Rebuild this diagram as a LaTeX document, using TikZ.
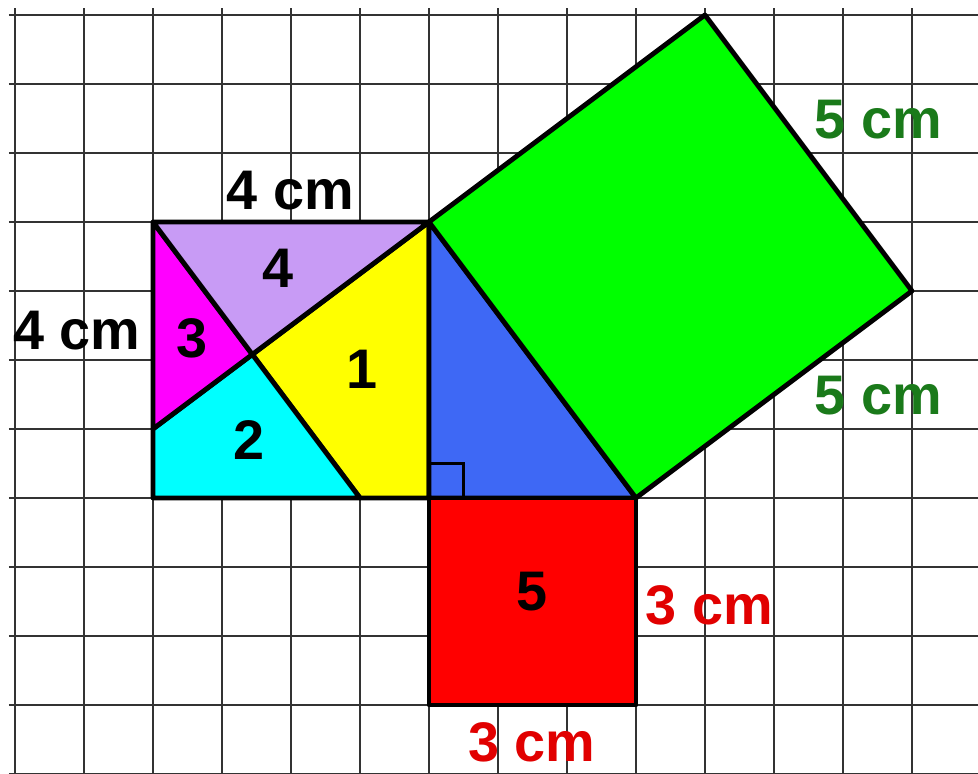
\documentclass[tikz,border=0pt]{standalone}
\usepackage{fontspec}
\setmainfont{Liberation Sans}
\usetikzlibrary{positioning}

\definecolor{lilac}{RGB}{200,155,245}
\definecolor{myblue}{RGB}{62,104,245}
\definecolor{mycyan}{RGB}{0,255,255}
\definecolor{mymagenta}{RGB}{255,0,255}
\definecolor{myyellow}{RGB}{255,255,0}
\definecolor{mygreen}{RGB}{0,255,0}
\definecolor{myred}{RGB}{255,0,0}
\definecolor{darkgreen}{RGB}{26,122,26}
\definecolor{redtext}{RGB}{225,0,0}

\tikzset{
  gridline/.style={line width=0.8pt, black!80},
  piece/.style={draw=black, line width=2pt, line join=round},
  lbl/.style={font=\fontsize{23}{27}\selectfont\bfseries, inner sep=0pt},
}

\begin{document}
\begin{tikzpicture}[x=1cm, y=1cm]
          \useasboundingbox (-2.217,-4) rectangle (11.957,7.217);
          \fill[white] (-2.217,-4) rectangle (11.957,7.217);
          \draw[gridline] (-2.087,-4) grid (11.957,7.1);

          % vertices
          \coordinate (A) at (0,0);
          \coordinate (B) at (4,0);
          \coordinate (C) at (4,4);
          \coordinate (D) at (0,4);
          \coordinate (E) at (0,1);
          \coordinate (F) at (3,0);
          \coordinate (P) at (1.44,2.08);
          \coordinate (G) at (7,0);
          \coordinate (H) at (11,3);
          \coordinate (K) at (8,7);
          \coordinate (L) at (7,-3);
          \coordinate (M) at (4,-3);

          % the four pieces of the 4 cm square
          \filldraw[piece, fill=myyellow] (P) -- (F) -- (B) -- (C) -- cycle;
          \filldraw[piece, fill=mycyan] (E) -- (A) -- (F) -- (P) -- cycle;
          \filldraw[piece, fill=mymagenta] (D) -- (E) -- (P) -- cycle;
          \filldraw[piece, fill=lilac] (D) -- (P) -- (C) -- cycle;

          % triangle and squares on the other sides
          \filldraw[piece, fill=myblue] (C) -- (B) -- (G) -- cycle;
          \filldraw[piece, fill=mygreen] (C) -- (G) -- (H) -- (K) -- cycle;
          \filldraw[piece, fill=myred] (B) -- (G) -- (L) -- (M) -- cycle;
          \draw[line width=1.3pt] (B) rectangle ++(0.5,0.5);

          \node[lbl] (n1) at (3.03,1.86) {1};
          \node[lbl] (n2) at (1.39,0.84) {2};
          \node[lbl] (n3) at (0.57,2.32) {3};
          \node[lbl] (n4) at (1.81,3.33) {4};
          \node[lbl] (n5) at (5.49,-1.36) {5};

          \node[lbl] (top) at (1.99,4.46) {4 cm};
          \node[lbl] (left) at (-1.10,2.43) {4 cm};
          \node[lbl, text=darkgreen] (hypa) at (10.51,5.48) {5 cm};
          \node[lbl, text=darkgreen] (hypb) at (10.51,1.49) {5 cm};
          \node[lbl, text=redtext] (side) at (8.06,-1.55) {3 cm};
          \node[lbl, text=redtext] (bottom) at (5.49,-3.54) {3 cm};
        \end{tikzpicture}
\end{document}
